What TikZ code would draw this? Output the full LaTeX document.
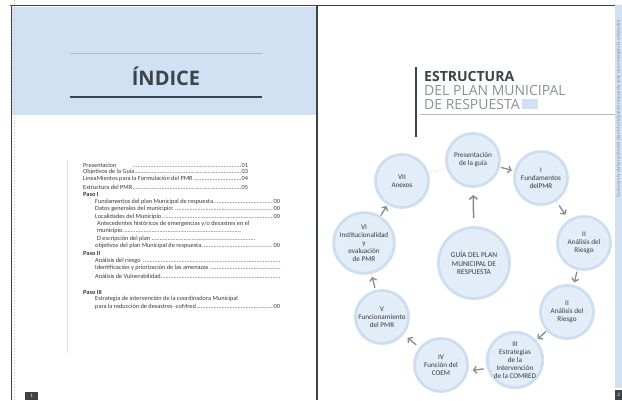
\documentclass[tikz,border=0pt]{standalone}
\usepackage{fontspec}
\setmainfont{Carlito}
\newfontfamily\headfont{Open Sans}
\usetikzlibrary{arrows.meta, calc, decorations.markings}
\definecolor{cband}{HTML}{CFE1F2}
\definecolor{cdark}{HTML}{3C434A}
\definecolor{cgrey}{HTML}{8C9196}
\definecolor{cfill}{HTML}{E2EDF8}
\definecolor{cring}{HTML}{CCDEF0}
\definecolor{carrow}{HTML}{8A8A8A}
\definecolor{ctext}{HTML}{3A3A3A}
\definecolor{cdots}{HTML}{CFC7B8}
\definecolor{crule}{HTML}{B4B9BE}
\definecolor{ctocline}{HTML}{D8E6F2}

\newcommand{\leaderdots}{\leaders\hbox to 1.6pt{\hss.\hss}\hfill}
\newcommand{\tocrow}[3]{\hbox to #1{#2\leaderdots#3}}

\begin{document}
\begin{tikzpicture}[x=1pt, y=-1pt,
  stage/.style={circle, minimum size=53pt, inner sep=0pt, fill=cfill, draw=cring, line width=2.8pt, align=center, text=ctext, font=\fontsize{7.2}{7.9}\selectfont,
    path picture={\draw[white, dotted, line width=0.5pt] (path picture bounding box.center) circle (24pt);}},
  flow/.style={draw=carrow!60, dotted, line width=0.6pt, postaction={decorate},
    decoration={markings, mark=at position 0.5 with {\draw[solid, carrow, line width=1.3pt, -{Straight Barb[length=3pt, width=7pt]}] (-6pt,0) -- (5pt,0);}}},
  link/.style={draw=carrow!60, dotted, line width=0.6pt},
  tocentry/.style={anchor=west, inner sep=0pt, text=ctext, font=\fontsize{6.3}{7}\selectfont},
  tochead/.style={tocentry, font=\fontsize{6.3}{7}\selectfont\bfseries},
  pagenum/.style={fill=cdark, text=white, inner sep=0pt, font=\fontsize{5}{5}\selectfont}
]
\useasboundingbox (0,0) rectangle (622,400);
\fill[white] (0,0) rectangle (622,400);

% Page frames
\fill[cband] (12,7) rectangle (316,115);
\fill[cband] (615,5) rectangle (622,388);
\draw[cdark, line width=1pt] (10,5.5) -- (615,5.5);
\draw[cdark, line width=1pt] (11,5) -- (11,400);
\draw[cdark, line width=1.5pt] (317,5) -- (317,400);
\draw[cdots, line width=1.2pt, dash pattern=on 1.2pt off 1.8pt] (14.5,0) -- (14.5,400);

% Page numbers
\node[pagenum, minimum width=13pt, minimum height=8pt, anchor=south west] (num1) at (25,400) {1};
\node[pagenum, minimum width=7pt, minimum height=10pt, anchor=south west] (num2) at (615,400) {2};

% Index title
\draw[crule, line width=0.6pt] (70,53) -- (262,53);
\node[font=\headfont\fontsize{20}{20}\selectfont\bfseries, text=cdark] (indice) at (166,76) {ÍNDICE};
\draw[cdark, line width=2pt] (70,97) -- (262,97);

% Index entries
\draw[ctocline, line width=0.8pt] (67,160) -- (67,353);
\node[tocentry] (toc1) at (83,165) {\tocrow{165pt}{Presentacion\hspace{2.5em}}{01}};
\node[tocentry] (toc2) at (83,172) {\tocrow{165pt}{Objetivos de la Guía}{03}};
\node[tocentry] (toc3) at (83,179) {\tocrow{165pt}{LineaMientos para la Formulación del PMR}{04}};
\node[tocentry] (toc4) at (83,187) {\tocrow{165pt}{Estructura del PMR}{05}};
\node[tochead] (paso1) at (83,194) {Paso I};
\node[tocentry] (toc5) at (95,202) {\tocrow{185pt}{Fundamentos del plan Municipal de respuesta.}{00}};
\node[tocentry] (toc6) at (95,209) {\tocrow{185pt}{Datos generales del municipio:}{00}};
\node[tocentry] (toc7) at (95,217) {\tocrow{185pt}{Localidades del Municipio.}{00}};
\node[tocentry] (toc8) at (97,224) {Antecedentes históricos de emergencias y/o desastres en el};
\node[tocentry] (toc9) at (97,231) {\tocrow{145pt}{municipio.}{}};
\node[tocentry] (toc10) at (97,239) {\tocrow{160pt}{D escripción del plan}{}};
\node[tocentry] (toc11) at (95,246) {\tocrow{185pt}{objetivos del plan Municipal de respuesta.}{00}};
\node[tochead] (paso2) at (83,253) {Paso II};
\node[tocentry] (toc12) at (95,261) {\tocrow{187pt}{Análisis del riesgo\ }{}};
\node[tocentry] (toc13) at (95,268) {\tocrow{187pt}{Identificación y priorización de las amenazas\ }{}};
\node[tocentry] (toc14) at (95,276) {\tocrow{187pt}{Análisis de Vulnerabilidad}{}};
\node[tochead] (paso3) at (83,292) {Paso III};
\node[tocentry] (toc15) at (95,299) {Estrategia de intervención de la coordinadora Municipal};
\node[tocentry] (toc16) at (95,307) {\tocrow{185pt}{para la reducción de desastres -coMred}{00}};

% Structure title
\draw[cdark, line width=2.5pt] (416,67) -- (416,137);
\node[anchor=north west, inner sep=0pt, align=left, font=\headfont\fontsize{14}{14}\selectfont, text=cgrey] (titulo) at (424,71)
  {\textcolor{cdark}{\bfseries ESTRUCTURA}\\DEL PLAN MUNICIPAL\\DE RESPUESTA\,\textcolor{cband}{\rule{16pt}{10pt}}};
\draw[crule, line width=0.8pt] (420,114) -- (615,114);

% Side caption
\node[rotate=90, anchor=east, inner sep=0pt, text=cgrey, font=\fontsize{4.9}{4.9}\selectfont] (lema) at (618.5,20)
  {Guía para la elaboración del plan Municipal de respuesta ante una emergencia o desastre};

% Stages
\node[stage] (pres) at (473,160) {Presentación\\de la guía};
\node[stage] (fund) at (541,178) {I\\Fundamentos\\delPMR};
\node[stage] (riesgoa) at (584,243) {II\\Análisis del\\Riesgo};
\node[stage] (riesgob) at (567,312) {II\\Análisis del\\Riesgo};
\node[stage] (estr) at (515,360) {III\\Estrategias\\de la\\Intervención\\de la COMRED};
\node[stage] (coem) at (441,365) {IV\\Función del\\COEM};
\node[stage] (func) at (382,317) {V\\Funcionamiento\\del PMR};
\node[stage] (inst) at (364,243) {VI\\Institucionalidad\\y\\evaluación\\de PMR};
\node[stage] (anex) at (402,181) {VII\\Anexos};
\node[stage, minimum size=71pt, font=\fontsize{7.4}{8.4}\selectfont] (guia) at (474,263) {GUÍA DEL PLAN\\MUNICIPAL DE\\RESPUESTA};

% Cycle
\draw[flow] (pres) -- (fund);
\draw[flow] (fund) -- (riesgoa);
\draw[flow] (riesgoa) -- (riesgob);
\draw[flow] (riesgob) -- (estr);
\draw[flow] (estr.197) -- (coem.-12);
\draw[flow] (coem) -- (func);
\draw[flow] (func) -- (inst);
\draw[flow] (inst) -- (anex);
\draw[link] (anex) -- (pres);
\draw[carrow, line width=1.5pt, -{Straight Barb[length=3.5pt, width=8pt]}, shorten <=8pt, shorten >=7pt] (guia) -- (pres);

\end{tikzpicture}
\end{document}
